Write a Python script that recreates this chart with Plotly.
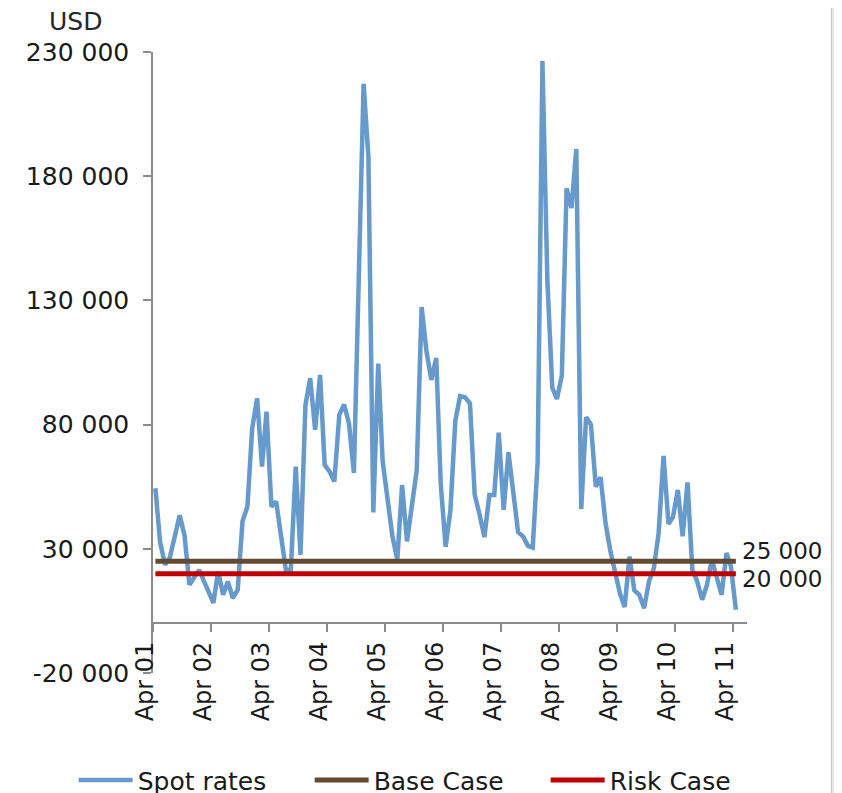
import pandas as pd
import plotly.graph_objects as go

# ---- data ----
months = [
    "2001-04", "2001-05", "2001-06", "2001-07", "2001-09", "2001-10", "2001-11",
    "2002-01", "2002-04", "2002-05", "2002-06", "2002-07", "2002-08", "2002-09",
    "2002-10", "2002-11", "2002-12", "2003-01", "2003-02", "2003-03", "2003-04",
    "2003-05", "2003-06", "2003-07", "2003-08", "2003-09", "2003-10", "2003-11",
    "2003-12", "2004-01", "2004-02", "2004-03", "2004-04", "2004-05", "2004-06",
    "2004-07", "2004-08", "2004-09", "2004-11", "2004-12", "2005-01", "2005-02",
    "2005-03", "2005-05", "2005-06", "2005-07", "2005-08", "2005-10", "2005-11",
    "2005-12", "2006-01", "2006-02", "2006-03", "2006-04", "2006-05", "2006-06",
    "2006-07", "2006-08", "2006-09", "2006-10", "2006-11", "2006-12", "2007-01",
    "2007-02", "2007-03", "2007-04", "2007-05", "2007-07", "2007-08", "2007-09",
    "2007-10", "2007-11", "2007-12", "2008-01", "2008-02", "2008-03", "2008-04",
    "2008-05", "2008-06", "2008-07", "2008-08", "2008-09", "2008-10", "2008-11",
    "2008-12", "2009-01", "2009-02", "2009-03", "2009-04", "2009-05", "2009-06",
    "2009-07", "2009-08", "2009-09", "2009-10", "2009-11", "2009-12", "2010-01",
    "2010-02", "2010-03", "2010-04", "2010-05", "2010-06", "2010-07", "2010-08",
    "2010-09", "2010-10", "2010-11", "2010-12", "2011-01", "2011-02", "2011-03",
    "2011-04",
]
spot_rates = [
    54400, 32500, 23600, 26500, 43500, 35500, 15500,
    21500, 8200, 20900, 11500, 16800, 10200, 13500,
    41000, 47000, 78500, 90600, 63100, 85200, 47000,
    49000, 35000, 21500, 21500, 63100, 27600, 87900,
    98700, 77900, 100000, 63800, 61100, 57100, 83900,
    88100, 80500, 60500, 217200, 188000, 44600, 104600,
    65100, 35100, 25650, 55600, 33000, 61500, 127300,
    109700, 98000, 106800, 56300, 30800, 45500, 81500,
    91500, 91000, 88600, 51700, 43700, 34700, 51700,
    51700, 76800, 45700, 68900, 36700, 35000, 31200,
    30500, 65000, 226400, 138000, 94800, 90300, 99700,
    175100, 167200, 190900, 46000, 83000, 80000, 55000,
    58800, 40300, 28900, 20900, 12200, 6600, 26900,
    13300, 11500, 6100, 16800, 22200, 36300, 67400,
    40000, 42700, 53700, 35000, 56700, 21600, 16800,
    9500, 15500, 25600, 17800, 11500, 28300, 22900,
    5500,
]
case_months = ["2001-04", "2011-04"]
base_case = [25000, 25000]
risk_case = [20000, 20000]

y_tick_vals = [-20000, 30000, 80000, 130000, 180000, 230000]
y_tick_text = ["-20 000", "30 000", "80 000", "130 000", "180 000", "230 000"]
x_tick_vals = ["2001-04-01", "2002-04-01", "2003-04-01", "2004-04-01", "2005-04-01",
               "2006-04-01", "2007-04-01", "2008-04-01", "2009-04-01", "2010-04-01",
               "2011-04-01"]
x_tick_text = ["Apr 01", "Apr 02", "Apr 03", "Apr 04", "Apr 05", "Apr 06",
               "Apr 07", "Apr 08", "Apr 09", "Apr 10", "Apr 11"]

# points sit in the middle of each monthly slot
mid = pd.Timedelta(days=15)
spot_x = pd.to_datetime(months) + mid
case_x = pd.to_datetime(case_months) + mid

FONT = "DejaVu Sans"
TXT = "#1a1a1a"
AX = "#8c8c8c"

fig = go.Figure()
fig.add_trace(go.Scatter(x=spot_x, y=spot_rates, mode="lines", name="Spot rates",
                         line=dict(color="#6699cc", width=4.5)))
fig.add_trace(go.Scatter(x=case_x, y=base_case, mode="lines", name="Base Case",
                         line=dict(color="#634a30", width=5)))
fig.add_trace(go.Scatter(x=case_x, y=risk_case, mode="lines", name="Risk Case",
                         line=dict(color="#c00000", width=5)))

fig.add_annotation(x=case_x[-1], y=base_case[-1], xref="x", yref="y",
                   text="25 000", showarrow=False, xanchor="left", yanchor="middle",
                   xshift=4, yshift=10, font=dict(family=FONT, size=23, color=TXT))
fig.add_annotation(x=case_x[-1], y=risk_case[-1], xref="x", yref="y",
                   text="20 000", showarrow=False, xanchor="left", yanchor="middle",
                   xshift=4, yshift=-5, font=dict(family=FONT, size=23, color=TXT))
fig.add_annotation(x=-0.13, y=1.049, xref="paper", yref="paper", text="USD",
                   showarrow=False, xanchor="center", yanchor="middle", borderpad=0,
                   font=dict(family=FONT, size=25, color="#262626"))

# light page edge on the right
fig.add_shape(type="rect", xref="paper", yref="paper", x0=1.142, x1=1.2, y0=-0.3, y1=1.2,
              fillcolor="#e6e6e6", line=dict(color="#bdbdbd", width=1), layer="above")

# the page body has an 8px margin, so the figure is sized/shifted to compensate
fig.update_layout(
    width=834, height=800, autosize=False,
    margin=dict(l=144.5, r=94.5, t=44, b=135, pad=0, autoexpand=False),
    paper_bgcolor="white", plot_bgcolor="white",
    font=dict(family=FONT, size=25, color=TXT),
    showlegend=True,
    legend=dict(orientation="h", x=-0.1336, xanchor="left",
                y=-0.1726, yanchor="middle",
                entrywidth=167, entrywidthmode="pixels", itemwidth=54,
                font=dict(family=FONT, size=25, color=TXT), bgcolor="rgba(0,0,0,0)"),
    xaxis=dict(type="date", range=["2001-04-01", "2011-06-25"], automargin=False,
               tickmode="array", tickvals=x_tick_vals, ticktext=x_tick_text,
               tickangle=-90, ticks="outside", ticklen=8, tickcolor=AX, tickwidth=1.5,
               showline=True, linecolor=AX, linewidth=1.5, showgrid=False, zeroline=False,
               anchor="free", position=0.08, ticklabelshift=-8,
               tickfont=dict(family=FONT, size=24, color=TXT)),
    yaxis=dict(range=[-20000, 230000], automargin=False, tickmode="array",
               tickvals=y_tick_vals, ticktext=y_tick_text, ticks="outside", ticklen=8,
               tickcolor=AX, tickwidth=1.5, showline=True, linecolor=AX, linewidth=1.5,
               showgrid=False, zeroline=False, ticklabelstandoff=9,
               tickfont=dict(family=FONT, size=25, color=TXT)),
)

fig.write_html("out.html")
